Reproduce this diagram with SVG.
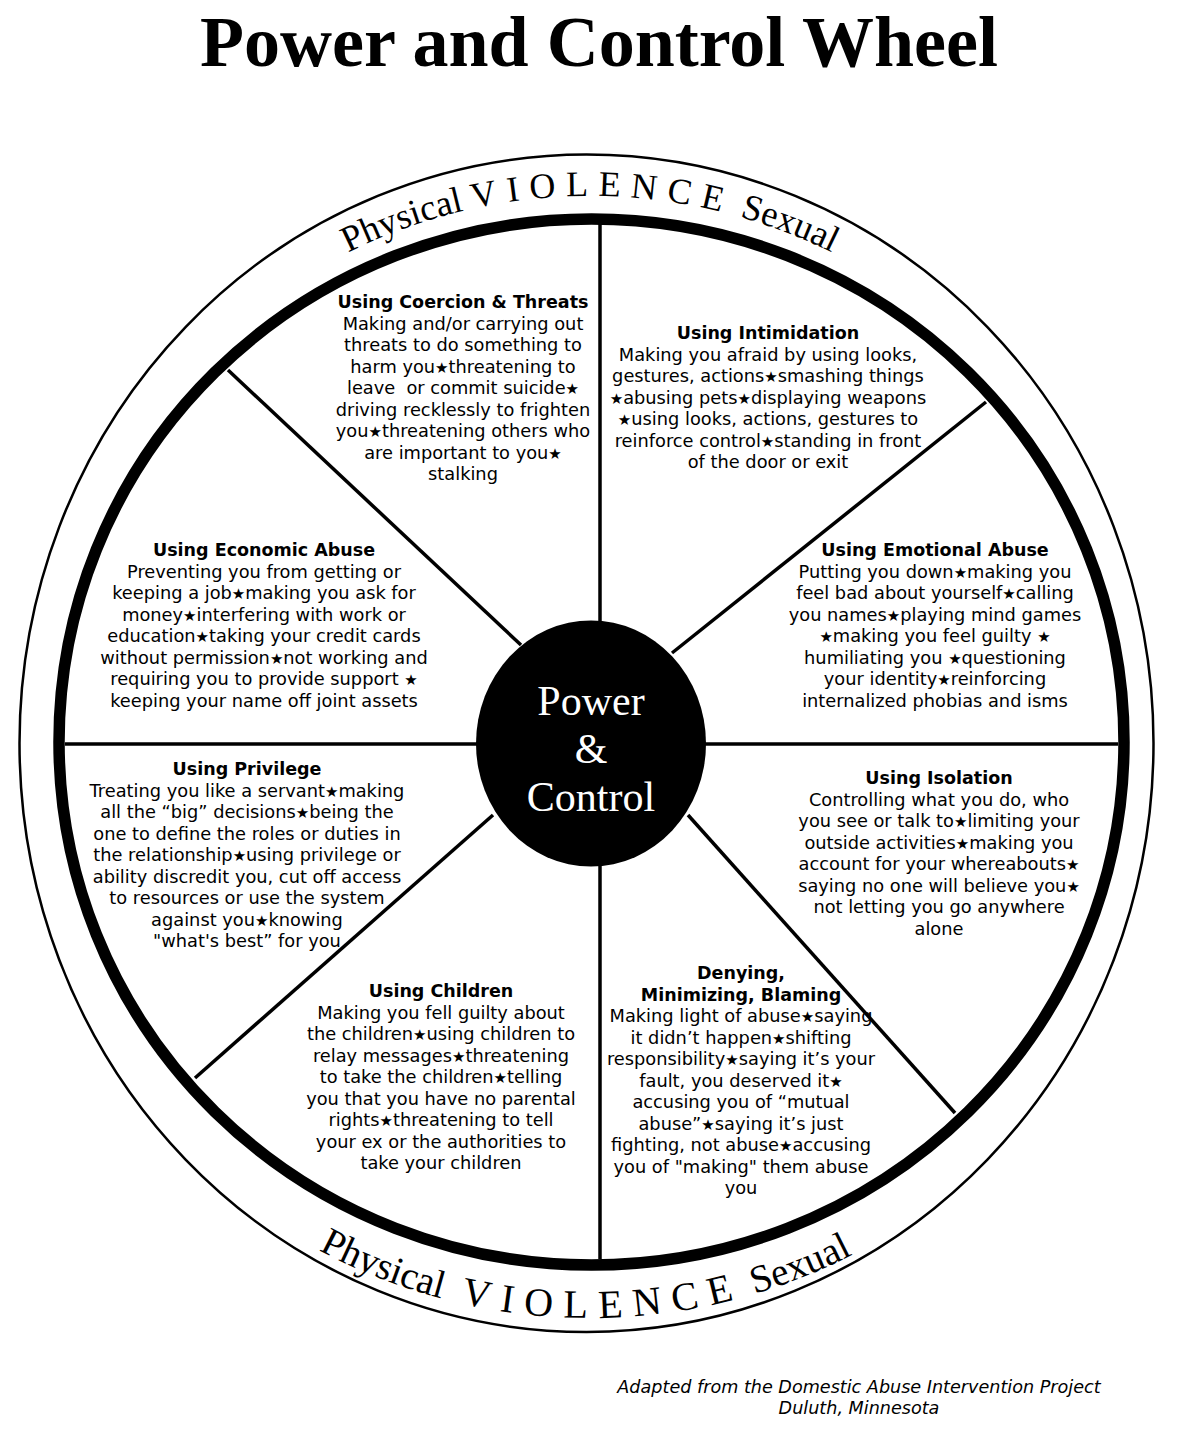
<svg xmlns="http://www.w3.org/2000/svg" width="1200" height="1435" viewBox="0 0 1200 1435">
<style>
.title{font-family:"Liberation Serif","Times New Roman",serif;font-weight:bold;font-size:72px;fill:#000}
.ring{font-family:"Liberation Serif","Times New Roman",serif;fill:#000}
.hub{font-family:"Liberation Serif","Times New Roman",serif;font-size:42px;fill:#fff}
.sec{font-family:"DejaVu Sans",Verdana,sans-serif;font-size:17.8px;fill:#000;text-anchor:middle}
.sec .h{font-weight:bold;font-size:17.5px}
.st{font-size:15px}
.foot{font-family:"DejaVu Sans",Verdana,sans-serif;font-style:italic;font-size:17.6px;fill:#000;text-anchor:middle}
.spoke{stroke:#000;stroke-width:3.5;fill:none}
</style>
<defs>
<path id="topArc" d="M117.15,469 A546,546 0 0 1 1062.85,469"/>
<path id="botArc" d="M91.2,1030 A576,576 0 0 0 1088.8,1030"/>
</defs>
<rect width="1200" height="1435" fill="#fff"/>
<text class="title" x="599" y="66" text-anchor="middle">Power and Control Wheel</text>

<g id="wheel">
<ellipse cx="586.5" cy="743.3" rx="567" ry="588.7" fill="none" stroke="#000" stroke-width="2.5"/>
<ellipse cx="591.5" cy="742" rx="532.5" ry="523" fill="none" stroke="#000" stroke-width="11.5"/>
</g>

<g id="ring-text">
<text class="ring" font-size="36.5"><textPath href="#topArc" startOffset="50%" text-anchor="middle">Physical <tspan font-size="36" letter-spacing="10">VIOLENCE</tspan> Sexual</textPath></text>
<text class="ring" font-size="39"><textPath href="#botArc" startOffset="49.6%" text-anchor="middle">Physical&#160; <tspan font-size="40" letter-spacing="11">VIOLENCE</tspan> Sexual</textPath></text>
</g>

<g id="spokes">
<line class="spoke" x1="600" y1="223" x2="600" y2="621"/>
<line class="spoke" x1="600" y1="866" x2="600" y2="1259"/>
<line class="spoke" x1="65" y1="744" x2="477" y2="744"/>
<line class="spoke" x1="705" y1="744" x2="1118" y2="744"/>
<line class="spoke" x1="228" y1="370" x2="521" y2="645"/>
<line class="spoke" x1="672" y1="653" x2="986" y2="402"/>
<line class="spoke" x1="493" y1="815" x2="195" y2="1078"/>
<line class="spoke" x1="688" y1="815" x2="955" y2="1113"/>
</g>

<g id="hub">
<ellipse cx="591" cy="743.5" rx="115" ry="123" fill="#000"/>
<text class="hub" text-anchor="middle"><tspan x="591" y="715">Power</tspan><tspan x="591" y="763">&amp;</tspan><tspan x="591" y="811">Control</tspan></text>
</g>

<g id="coercion">
<text class="sec" y="308"><tspan class="h" x="463">Using Coercion &amp; Threats</tspan><tspan x="463" dy="21.5">Making and/or carrying out</tspan><tspan x="463" dy="21.5">threats to do something to</tspan><tspan x="463" dy="21.5">harm you<tspan class="st">★</tspan>threatening to</tspan><tspan x="463" dy="21.5">leave&#160; or commit suicide<tspan class="st">★</tspan></tspan><tspan x="463" dy="21.5">driving recklessly to frighten</tspan><tspan x="463" dy="21.5">you<tspan class="st">★</tspan>threatening others who</tspan><tspan x="463" dy="21.5">are important to you<tspan class="st">★</tspan></tspan><tspan x="463" dy="21.5">stalking</tspan></text>
</g>

<g id="intimidation">
<text class="sec" y="339"><tspan class="h" x="768">Using Intimidation</tspan><tspan x="768" dy="21.5">Making you afraid by using looks,</tspan><tspan x="768" dy="21.5">gestures, actions<tspan class="st">★</tspan>smashing things</tspan><tspan x="768" dy="21.5"><tspan class="st">★</tspan>abusing pets<tspan class="st">★</tspan>displaying weapons</tspan><tspan x="768" dy="21.5"><tspan class="st">★</tspan>using looks, actions, gestures to</tspan><tspan x="768" dy="21.5">reinforce control<tspan class="st">★</tspan>standing in front</tspan><tspan x="768" dy="21.5">of the door or exit</tspan></text>
</g>

<g id="emotional">
<text class="sec" y="556"><tspan class="h" x="935">Using Emotional Abuse</tspan><tspan x="935" dy="21.5">Putting you down<tspan class="st">★</tspan>making you</tspan><tspan x="935" dy="21.5">feel bad about yourself<tspan class="st">★</tspan>calling</tspan><tspan x="935" dy="21.5">you names<tspan class="st">★</tspan>playing mind games</tspan><tspan x="935" dy="21.5"><tspan class="st">★</tspan>making you feel guilty <tspan class="st">★</tspan></tspan><tspan x="935" dy="21.5">humiliating you <tspan class="st">★</tspan>questioning</tspan><tspan x="935" dy="21.5">your identity<tspan class="st">★</tspan>reinforcing</tspan><tspan x="935" dy="21.5">internalized phobias and isms</tspan></text>
</g>

<g id="isolation">
<text class="sec" y="784"><tspan class="h" x="939">Using Isolation</tspan><tspan x="939" dy="21.5">Controlling what you do, who</tspan><tspan x="939" dy="21.5">you see or talk to<tspan class="st">★</tspan>limiting your</tspan><tspan x="939" dy="21.5">outside activities<tspan class="st">★</tspan>making you</tspan><tspan x="939" dy="21.5">account for your whereabouts<tspan class="st">★</tspan></tspan><tspan x="939" dy="21.5">saying no one will believe you<tspan class="st">★</tspan></tspan><tspan x="939" dy="21.5">not letting you go anywhere</tspan><tspan x="939" dy="21.5">alone</tspan></text>
</g>

<g id="denying">
<text class="sec" y="979"><tspan class="h" x="741">Denying,</tspan><tspan class="h" x="741" dy="21.5">Minimizing, Blaming</tspan><tspan x="741" dy="21.5">Making light of abuse<tspan class="st">★</tspan>saying</tspan><tspan x="741" dy="21.5">it didn’t happen<tspan class="st">★</tspan>shifting</tspan><tspan x="741" dy="21.5">responsibility<tspan class="st">★</tspan>saying it’s your</tspan><tspan x="741" dy="21.5">fault, you deserved it<tspan class="st">★</tspan></tspan><tspan x="741" dy="21.5">accusing you of “mutual</tspan><tspan x="741" dy="21.5">abuse”<tspan class="st">★</tspan>saying it’s just</tspan><tspan x="741" dy="21.5">fighting, not abuse<tspan class="st">★</tspan>accusing</tspan><tspan x="741" dy="21.5">you of "making" them abuse</tspan><tspan x="741" dy="21.5">you</tspan></text>
</g>

<g id="children">
<text class="sec" y="997"><tspan class="h" x="441">Using Children</tspan><tspan x="441" dy="21.5">Making you fell guilty about</tspan><tspan x="441" dy="21.5">the children<tspan class="st">★</tspan>using children to</tspan><tspan x="441" dy="21.5">relay messages<tspan class="st">★</tspan>threatening</tspan><tspan x="441" dy="21.5">to take the children<tspan class="st">★</tspan>telling</tspan><tspan x="441" dy="21.5">you that you have no parental</tspan><tspan x="441" dy="21.5">rights<tspan class="st">★</tspan>threatening to tell</tspan><tspan x="441" dy="21.5">your ex or the authorities to</tspan><tspan x="441" dy="21.5">take your children</tspan></text>
</g>

<g id="privilege">
<text class="sec" y="775"><tspan class="h" x="247">Using Privilege</tspan><tspan x="247" dy="21.5">Treating you like a servant<tspan class="st">★</tspan>making</tspan><tspan x="247" dy="21.5">all the “big” decisions<tspan class="st">★</tspan>being the</tspan><tspan x="247" dy="21.5">one to define the roles or duties in</tspan><tspan x="247" dy="21.5">the relationship<tspan class="st">★</tspan>using privilege or</tspan><tspan x="247" dy="21.5">ability discredit you, cut off access</tspan><tspan x="247" dy="21.5">to resources or use the system</tspan><tspan x="247" dy="21.5">against you<tspan class="st">★</tspan>knowing</tspan><tspan x="247" dy="21.5">"what's best” for you</tspan></text>
</g>

<g id="economic">
<text class="sec" y="556"><tspan class="h" x="264">Using Economic Abuse</tspan><tspan x="264" dy="21.5">Preventing you from getting or</tspan><tspan x="264" dy="21.5">keeping a job<tspan class="st">★</tspan>making you ask for</tspan><tspan x="264" dy="21.5">money<tspan class="st">★</tspan>interfering with work or</tspan><tspan x="264" dy="21.5">education<tspan class="st">★</tspan>taking your credit cards</tspan><tspan x="264" dy="21.5">without permission<tspan class="st">★</tspan>not working and</tspan><tspan x="264" dy="21.5">requiring you to provide support <tspan class="st">★</tspan></tspan><tspan x="264" dy="21.5">keeping your name off joint assets</tspan></text>
</g>

<g id="footer">
<text class="foot"><tspan x="859" y="1393">Adapted from the Domestic Abuse Intervention Project</tspan><tspan x="859" y="1414">Duluth, Minnesota</tspan></text>
</g>
</svg>
